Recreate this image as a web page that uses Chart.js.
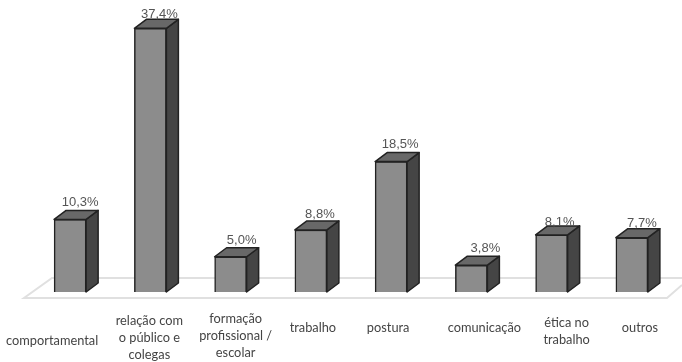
<!DOCTYPE html>
<html>
<head>
<meta charset="utf-8">
<style>
    html, body { margin: 0; padding: 0; background: #fff; }
</style>
<script src="https://cdn.jsdelivr.net/npm/chart.js@4"></script>
</head>
<body>
<canvas id="cnv" width="682" height="362"></canvas>
<script>
var categories = [
    ["comportamental"],
    ["relação com", "o público e", "colegas"],
    ["formação", "profissional /", "escolar"],
    ["trabalho"],
    ["postura"],
    ["comunicação"],
    ["ética no", "trabalho"],
    ["outros"]
];
var values = [10.3, 37.4, 5.0, 8.8, 18.5, 3.8, 8.1, 7.7];

// the labels are not lined up under the bars in the original
var labelShiftX = [-18, -1, 5, 2, -3, 13, 15, 8];
var labelFirstY = [341, 321, 319, 328, 328, 328, 323, 328];
var valueShiftX = [10, 9, 11, 9, 9, 14, 8, 10];
var valueShiftY = [-8, -5, -7, -7, -8, -8, -3, -5];

var depthX = 12, depthY = 9;

var look3d = {
    id: "look3d",
    beforeDatasetsDraw: function (chart) {
        // floor
        var ctx = chart.ctx;
        var y0 = chart.scales.y.getPixelForValue(0);
        ctx.save();
        ctx.strokeStyle = "#e0e0e0";
        ctx.lineWidth = 2;
        ctx.beginPath();
        ctx.moveTo(682, y0 - 7);
        ctx.lineTo(667, y0 + 6);
        ctx.lineTo(24, y0 + 6);
        ctx.lineTo(52, y0 - 14);
        ctx.lineTo(682, y0 - 14);
        ctx.stroke();
        ctx.restore();
    },
    afterDatasetsDraw: function (chart) {
        var ctx = chart.ctx;
        var bars = chart.getDatasetMeta(0).data;
        ctx.save();
        bars.forEach(function (bar, i) {
            var r = bar.x + bar.width / 2, l = bar.x - bar.width / 2;
            var t = bar.y, b = bar.base;

            ctx.lineWidth = 1.5;
            ctx.lineJoin = "round";
            ctx.strokeStyle = "#222";

            ctx.fillStyle = "#454545";
            ctx.beginPath();
            ctx.moveTo(r, t);
            ctx.lineTo(r + depthX, t - depthY);
            ctx.lineTo(r + depthX, b - depthY);
            ctx.lineTo(r, b);
            ctx.closePath();
            ctx.fill();
            ctx.stroke();

            ctx.fillStyle = "#686868";
            ctx.beginPath();
            ctx.moveTo(l, t);
            ctx.lineTo(l + depthX, t - depthY);
            ctx.lineTo(r + depthX, t - depthY);
            ctx.lineTo(r, t);
            ctx.closePath();
            ctx.fill();
            ctx.stroke();

            // value on top
            ctx.fillStyle = "#555";
            ctx.font = "13px 'Liberation Sans'";
            ctx.textAlign = "center";
            ctx.textBaseline = "middle";
            var txt = values[i].toFixed(1).replace(".", ",") + "%";
            ctx.fillText(txt, bar.x + valueShiftX[i], t - depthY + valueShiftY[i]);

            // category label
            ctx.fillStyle = "#444";
            ctx.font = "12.8px Lato";
            categories[i].forEach(function (line, k) {
                ctx.fillText(line, bar.x + labelShiftX[i], labelFirstY[i] + k * 17);
            });
        });
        ctx.restore();
    }
};

var myChart = new Chart(document.getElementById("cnv"), {
    type: "bar",
    data: {
        labels: categories,
        datasets: [{
            data: values,
            backgroundColor: "#8c8c8c",
            borderColor: "#222",
            borderWidth: 1.5,
            barThickness: 32
        }]
    },
    options: {
        responsive: false,
        animation: false,
        layout: { padding: { left: 30, right: 10, top: 10, bottom: 70 } },
        plugins: { legend: { display: false }, tooltip: { enabled: false } },
        scales: {
            x: { display: false, grid: { display: false } },
            y: { display: false, min: 0, max: 40, grid: { display: false } }
        }
    },
    plugins: [look3d]
});
</script>
</body>
</html>
